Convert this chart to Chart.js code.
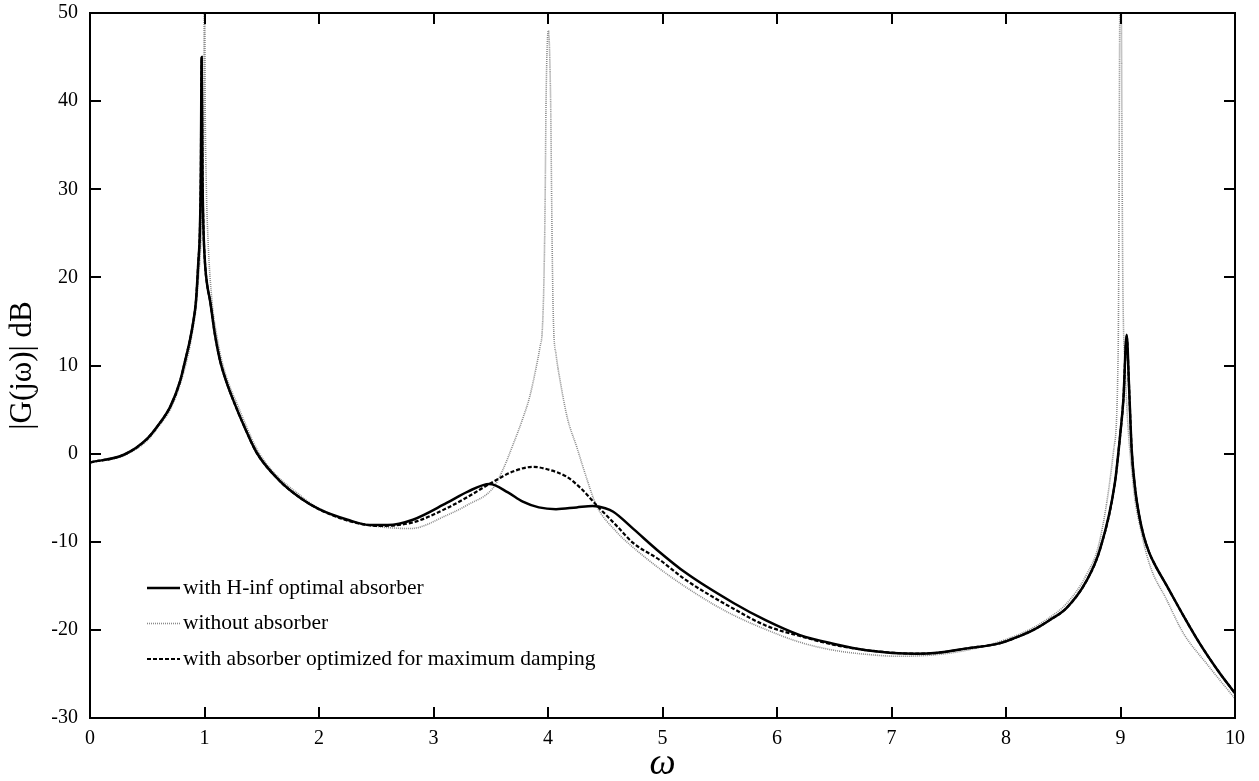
<!DOCTYPE html>
<html>
<head>
<meta charset="utf-8">
<script src="https://cdn.jsdelivr.net/npm/chart.js@4/dist/chart.umd.min.js"></script>
<style>
    html, body { margin: 0; padding: 0; background: #fff; }
    #wrap { width: 1259px; height: 781px; position: relative; }
</style>
</head>
<body>
<div id="wrap"><canvas id="gainChart"></canvas></div>
<script>
// Axis ticks
const xTicks = [0, 1, 2, 3, 4, 5, 6, 7, 8, 9, 10];
const yTicks = [-30, -20, -10, 0, 10, 20, 30, 40, 50];

// with H-inf optimal absorber
const hinfOmega = [0, 0.3, 0.5, 0.6, 0.7, 0.786, 0.83, 0.873, 0.9, 0.926, 0.945, 0.96, 0.968, 0.975, 0.982, 0.99, 1.005, 1.025, 1.048, 1.09, 1.135, 1.19, 1.25, 1.35, 1.456, 1.65, 1.834, 2.0, 2.25, 2.45, 2.6, 2.82, 3.115, 3.3, 3.49, 3.65, 3.78, 3.92, 4.07, 4.25, 4.39, 4.5, 4.57, 4.75, 4.95, 5.2, 5.62, 5.9, 6.2, 6.5, 6.78, 7.22, 7.4, 7.66, 7.95, 8.1, 8.24, 8.38, 8.53, 8.7, 8.82, 8.95, 9.0, 9.025, 9.054, 9.075, 9.098, 9.13, 9.16, 9.2, 9.25, 9.3, 9.4, 9.55, 9.69, 9.85, 10];
const hinfDb = [-1.0, -0.1, 1.7, 3.3, 5.3, 8.2, 10.5, 12.9, 14.8, 17.4, 21.5, 25.5, 32, 45, 32, 26, 21.5, 19, 17.4, 13.6, 10.6, 8.2, 6.1, 3.0, 0.1, -3.0, -5.0, -6.3, -7.5, -8.1, -8.1, -7.5, -5.6, -4.3, -3.45, -4.4, -5.45, -6.1, -6.3, -6.1, -5.95, -6.2, -6.6, -8.6, -10.9, -13.5, -16.95, -18.9, -20.6, -21.6, -22.3, -22.7, -22.6, -22.1, -21.5, -20.8, -20.0, -18.9, -17.5, -14.5, -10.9, -3.4, 2.5, 6.1, 13.5, 7.5, 0.4, -4.2, -6.8, -9.2, -11.2, -12.6, -14.9, -18.4, -21.5, -24.6, -27.2];

// without absorber
const bareOmega = [0, 0.3, 0.5, 0.6, 0.7, 0.786, 0.873, 0.9, 0.926, 0.945, 0.97, 0.985, 0.995, 1.0, 1.005, 1.015, 1.03, 1.065, 1.11, 1.15, 1.21, 1.27, 1.48, 1.86, 2.0, 2.25, 2.53, 2.8, 3.115, 3.3, 3.52, 3.6, 3.7, 3.78, 3.84, 3.9, 3.93, 3.95, 3.965, 3.975, 3.983, 4.003, 4.023, 4.032, 4.04, 4.05, 4.07, 4.105, 4.17, 4.25, 4.33, 4.42, 4.6, 4.74, 5.0, 5.33, 5.6, 5.91, 6.2, 6.49, 6.8, 7.07, 7.4, 7.66, 7.95, 8.2, 8.38, 8.53, 8.7, 8.82, 8.94, 8.98, 9.0, 9.02, 9.04, 9.11, 9.18, 9.26, 9.4, 9.55, 9.75, 10];
const bareDb = [-1.0, -0.2, 1.5, 3.1, 5.0, 7.8, 12.2, 14.3, 16.5, 19.5, 24.5, 31, 42, 62, 42, 31, 24.5, 17.4, 13.2, 10.6, 8.0, 6.1, 0.0, -5.0, -6.2, -7.6, -8.3, -8.5, -7.0, -5.8, -3.9, -2.0, 1.2, 4.0, 6.45, 10.0, 12.1, 14.0, 20, 28.8, 40, 48, 40, 28.8, 20, 14, 11.3, 8.35, 4.0, 0.8, -2.5, -5.8, -8.9, -10.6, -13.3, -16.2, -18.2, -20.0, -21.4, -22.3, -22.8, -23.0, -22.8, -22.3, -21.3, -20.0, -18.6, -17.0, -13.8, -9.8, 0.4, 12, 62, 20, 9.9, -3.4, -8.8, -12.8, -16.5, -20.4, -23.8, -27.8];

// with absorber optimized for maximum damping
const dampOmega = [0, 0.3, 0.5, 0.6, 0.7, 0.786, 0.83, 0.873, 0.9, 0.926, 0.945, 0.96, 0.968, 0.975, 0.982, 0.99, 1.005, 1.025, 1.048, 1.09, 1.135, 1.19, 1.25, 1.35, 1.456, 1.65, 1.834, 2.0, 2.25, 2.53, 2.82, 3.115, 3.3, 3.52, 3.7, 3.87, 4.0, 4.16, 4.3, 4.42, 4.6, 4.74, 4.98, 5.2, 5.62, 5.9, 6.2, 6.5, 6.78, 7.22, 7.4, 7.66, 7.95, 8.1, 8.24, 8.38, 8.53, 8.7, 8.82, 8.95, 9.0, 9.025, 9.054, 9.075, 9.098, 9.13, 9.16, 9.2, 9.25, 9.3, 9.4, 9.55, 9.69, 9.85, 10];
const dampDb = [-1.0, -0.1, 1.7, 3.3, 5.3, 8.2, 10.5, 12.9, 14.8, 17.4, 21.5, 25.5, 32, 45, 32, 26, 21.5, 19, 17.4, 13.6, 10.6, 8.2, 6.1, 3.0, 0.1, -3.0, -5.0, -6.3, -7.6, -8.2, -7.8, -6.2, -4.9, -3.2, -2.0, -1.5, -1.8, -2.6, -4.1, -5.8, -8.2, -10.1, -12.1, -14.3, -17.6, -19.5, -20.7, -21.7, -22.3, -22.7, -22.6, -22.1, -21.5, -20.8, -20.0, -18.9, -17.5, -14.5, -10.9, -3.4, 2.5, 6.1, 13.3, 7.5, 0.4, -4.2, -6.8, -9.2, -11.2, -12.6, -14.9, -18.4, -21.5, -24.6, -27.2];

const toPoints = (xs, ys) => xs.map((x, i) => ({ x: x, y: ys[i] }));

const serif = "'Liberation Serif', 'Times New Roman', serif";

// Frame with inward ticks on all four sides + legend inside the plot
const framePlugin = {
    id: 'frame',
    afterDraw(chart) {
        const { ctx, chartArea: a, scales } = chart;
        const len = 11;
        ctx.save();
        ctx.strokeStyle = '#000';
        ctx.lineWidth = 2;
        ctx.strokeRect(a.left, a.top, a.right - a.left, a.bottom - a.top);
        ctx.beginPath();
        xTicks.slice(1, -1).forEach(v => {
            const px = Math.round(scales.x.getPixelForValue(v));
            ctx.moveTo(px, a.bottom); ctx.lineTo(px, a.bottom - len);
            ctx.moveTo(px, a.top); ctx.lineTo(px, a.top + len);
        });
        yTicks.slice(1, -1).forEach(v => {
            const py = Math.round(scales.y.getPixelForValue(v));
            ctx.moveTo(a.left, py); ctx.lineTo(a.left + len, py);
            ctx.moveTo(a.right, py); ctx.lineTo(a.right - len, py);
        });
        ctx.stroke();

        // legend
        const lx = 147, ly = 588, gap = 35.5;
        chart.data.datasets.forEach((ds, i) => {
            const y = ly + i * gap;
            ctx.beginPath();
            ctx.strokeStyle = ds.borderColor;
            ctx.lineWidth = ds.borderWidth;
            ctx.setLineDash(ds.borderDash || []);
            ctx.moveTo(lx, y);
            ctx.lineTo(lx + 33, y);
            ctx.stroke();
            ctx.setLineDash([]);
            ctx.fillStyle = '#000';
            ctx.font = '21.5px ' + serif;
            ctx.textBaseline = 'middle';
            ctx.fillText(ds.label, lx + 36, y);
        });
        ctx.restore();
    }
};

function initChart() {
    const el = document.getElementById('gainChart');
    new Chart(el, {
        type: 'line',
        data: {
            datasets: [{
                label: 'with H-inf optimal absorber',
                data: toPoints(hinfOmega, hinfDb),
                borderColor: '#000',
                borderWidth: 2.5,
                pointRadius: 0,
                cubicInterpolationMode: 'monotone',
                order: 1
            },
            {
                label: 'without absorber',
                data: toPoints(bareOmega, bareDb),
                borderColor: '#8a8a8a',
                borderWidth: 1.6,
                borderDash: [1, 1],
                pointRadius: 0,
                cubicInterpolationMode: 'monotone',
                order: 3
            },
            {
                label: 'with absorber optimized for maximum damping',
                data: toPoints(dampOmega, dampDb),
                borderColor: '#000',
                borderWidth: 2.2,
                borderDash: [4, 2],
                pointRadius: 0,
                cubicInterpolationMode: 'monotone',
                order: 2
            }]
        },
        options: {
            responsive: true,
            maintainAspectRatio: false,
            animation: false,
            layout: { padding: { top: 13, right: 24, left: 0, bottom: 0 } },
            plugins: {
                legend: { display: false },
                tooltip: { enabled: false }
            },
            scales: {
                x: {
                    type: 'linear',
                    min: 0,
                    max: 10,
                    afterBuildTicks: s => { s.ticks = xTicks.map(v => ({ value: v })); },
                    afterFit: s => { s.height = 63; s.paddingLeft = 0; s.paddingRight = 0; },
                    grid: { display: false, drawTicks: false },
                    border: { display: false },
                    ticks: {
                        color: '#000',
                        padding: 9,
                        maxRotation: 0,
                        autoSkip: false,
                        font: { family: serif, size: 20 }
                    },
                    title: {
                        display: true,
                        text: 'ω',
                        color: '#000',
                        padding: { top: 0, bottom: -2 },
                        font: { family: serif, size: 37, style: 'italic', lineHeight: 1 }
                    }
                },
                y: {
                    min: -30,
                    max: 50,
                    afterBuildTicks: s => { s.ticks = yTicks.map(v => ({ value: v })); },
                    afterFit: s => { s.width = 90; s.paddingTop = 0; s.paddingBottom = 0; },
                    grid: { display: false, drawTicks: false },
                    border: { display: false },
                    ticks: {
                        color: '#000',
                        padding: 12,
                        autoSkip: false,
                        font: { family: serif, size: 20 }
                    },
                    title: {
                        display: true,
                        text: '|G(jω)| dB',
                        color: '#000',
                        padding: { top: 4, bottom: 0 },
                        font: { family: serif, size: 31 }
                    }
                }
            }
        },
        plugins: [framePlugin]
    });
}

window.addEventListener('load', () => {
    initChart();
});
</script>
</body>
</html>
